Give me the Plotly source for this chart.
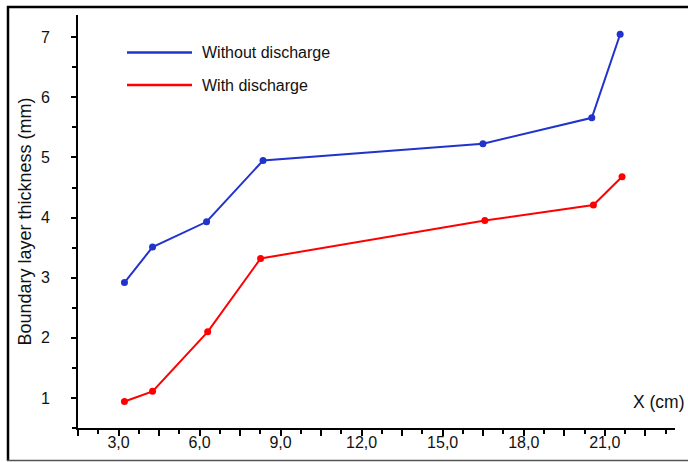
import plotly.graph_objects as go

# ---- data ----
x_without = [3.22, 4.26, 6.26, 8.35, 16.49, 20.52, 21.57]
y_without = [2.92, 3.51, 3.93, 4.95, 5.23, 5.66, 7.05]

x_with = [3.22, 4.26, 6.30, 8.26, 16.56, 20.58, 21.64]
y_with = [0.94, 1.11, 2.10, 3.32, 3.95, 4.21, 4.68]

series_names = ["Without discharge", "With discharge"]
x_tick_vals = [1.5, 3, 4.5, 6, 7.5, 9, 10.5, 12, 13.5, 15, 16.5, 18, 19.5, 21, 22.5]
x_tick_text = ["", "3,0", "", "6,0", "", "9,0", "", "12,0", "", "15,0", "", "18,0", "", "21,0", ""]
y_tick_vals = [1, 2, 3, 4, 5, 6, 7]
y_tick_text = ["1", "2", "3", "4", "5", "6", "7"]
x_title = "X (cm)"
y_title = "Boundary layer thickness (mm)"

BLUE = "#2233cc"
RED = "#ff0000"
FONT = "Liberation Sans, Arial, sans-serif"
TXT = "#111111"

W, H = 688, 462
L, R, T, B = 78, 13, 15, 34
PW, PH = W - L - R, H - T - B


def px(xp):
    return (xp - L) / PW


def py(yp):
    return (H - B - yp) / PH


fig = go.Figure()
fig.add_trace(go.Scatter(x=x_without, y=y_without, mode="lines+markers", name=series_names[0],
                         line=dict(color=BLUE, width=2), marker=dict(color=BLUE, size=7)))
fig.add_trace(go.Scatter(x=x_with, y=y_with, mode="lines+markers", name=series_names[1],
                         line=dict(color=RED, width=2), marker=dict(color=RED, size=7)))

shapes = []
annotations = []
# manual legend
for i, (name, col) in enumerate(zip(series_names, [BLUE, RED])):
    yy = 52.5 + i * 32.5
    shapes.append(dict(type="line", xref="paper", yref="paper", x0=px(127), x1=px(192),
                       y0=py(yy), y1=py(yy), line=dict(color=col, width=2.5)))
    annotations.append(dict(text=name, xref="paper", yref="paper", x=px(200), y=py(yy),
                            xanchor="left", yanchor="middle", showarrow=False,
                            font=dict(family=FONT, size=16, color=TXT)))

# x axis title at right end
annotations.append(dict(text=x_title, xref="paper", yref="paper", x=px(687), y=py(402),
                        xanchor="right", yanchor="middle", showarrow=False,
                        font=dict(family=FONT, size=17.5, color=TXT)))

# outer frame
shapes.append(dict(type="line", xref="paper", yref="paper", x0=px(8), x1=px(8),
                   y0=py(6), y1=py(461), line=dict(color="#000000", width=2.5)))
shapes.append(dict(type="line", xref="paper", yref="paper", x0=px(7), x1=px(700),
                   y0=py(7), y1=py(7), line=dict(color="#000000", width=2.5)))
shapes.append(dict(type="line", xref="paper", yref="paper", x0=px(7), x1=px(700),
                   y0=py(460.5), y1=py(460.5), line=dict(color="#555555", width=1.5)))

fig.update_layout(
    width=W, height=H,
    margin=dict(l=L, r=R, t=T, b=B, pad=0),
    paper_bgcolor="white", plot_bgcolor="white",
    showlegend=False,
    shapes=shapes, annotations=annotations,
    font=dict(family=FONT, size=16, color=TXT),
)
fig.update_xaxes(
    range=[1.5, 23.6], showgrid=False, zeroline=False,
    showline=True, linecolor="black", linewidth=2,
    tickmode="array", tickvals=x_tick_vals, ticktext=x_tick_text,
    ticks="outside", ticklen=6, tickwidth=1.5, tickcolor="black",
    minor=dict(dtick=0.75, tick0=1.5, ticks="outside", ticklen=4, tickwidth=1.5, tickcolor="black"),
    tickfont=dict(family=FONT, size=16, color=TXT),
    ticklabelstandoff=-7,
)
fig.update_yaxes(
    range=[0.5, 7.37], showgrid=False, zeroline=False,
    showline=True, linecolor="black", linewidth=2,
    tickmode="array", tickvals=y_tick_vals, ticktext=y_tick_text,
    ticks="outside", ticklen=5, tickwidth=1.5, tickcolor="black",
    minor=dict(dtick=0.5, tick0=0.5, ticks="outside", ticklen=4, tickwidth=1.5, tickcolor="black"),
    tickfont=dict(family=FONT, size=16, color=TXT),
    ticklabelstandoff=18,
    title=dict(text=y_title, font=dict(family=FONT, size=18, color=TXT), standoff=5),
)

fig.write_html("out.html")
